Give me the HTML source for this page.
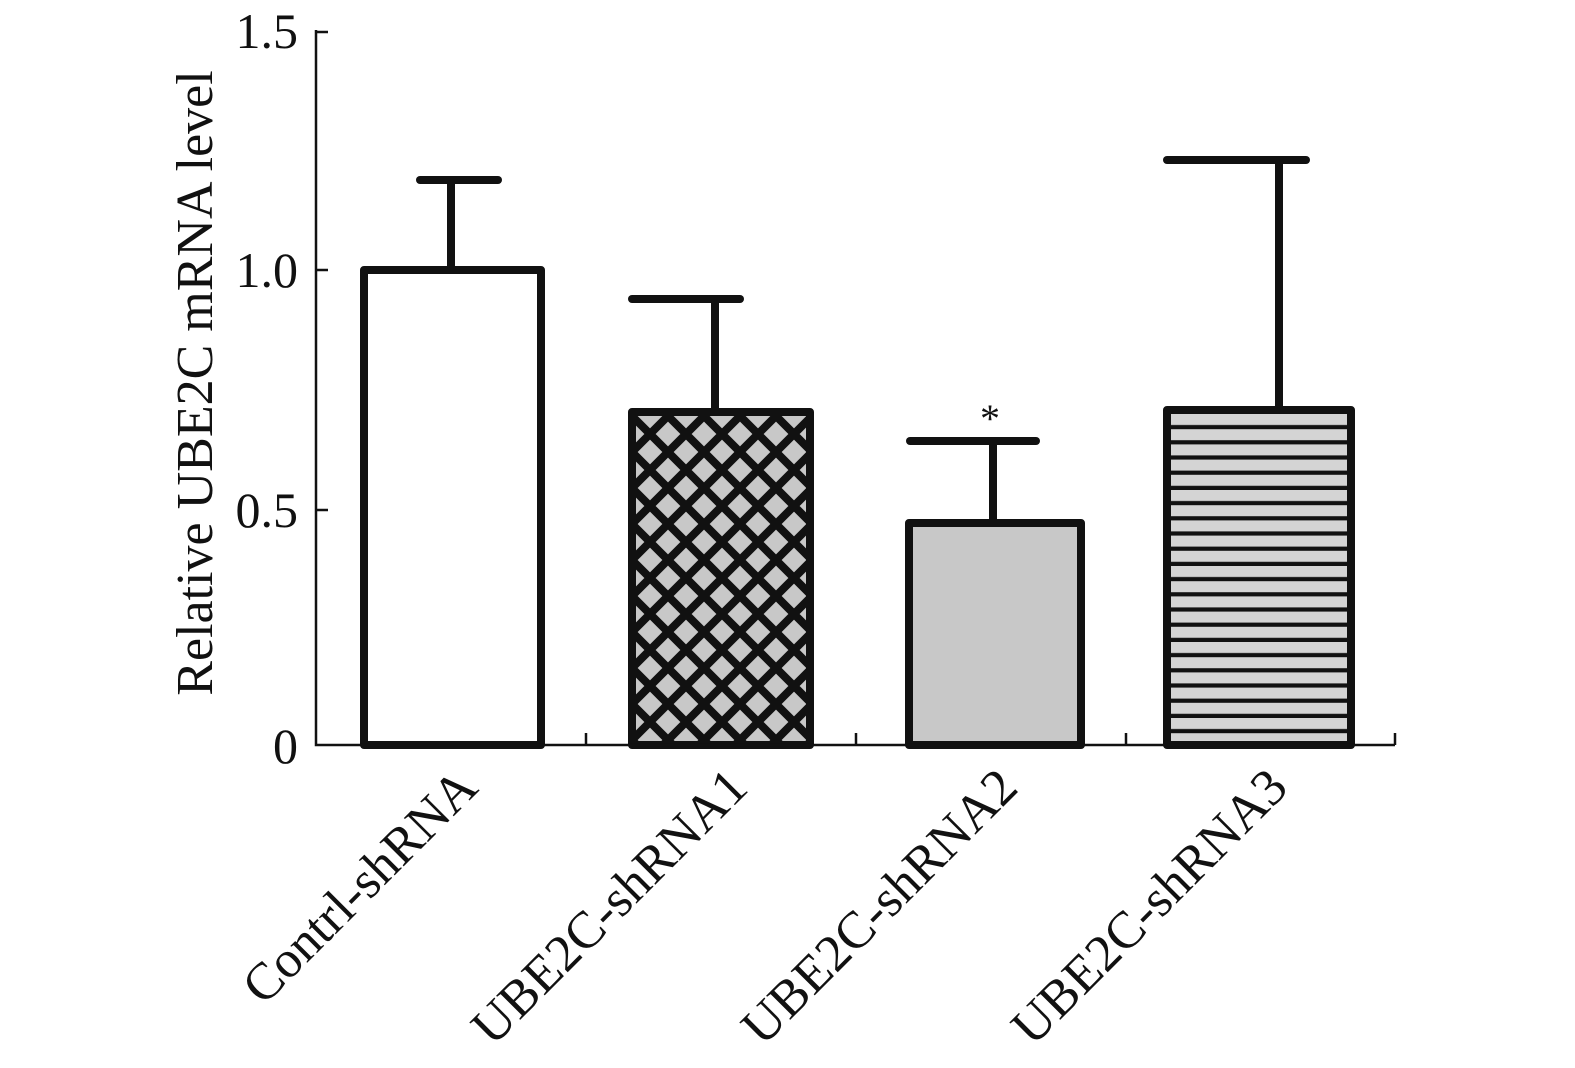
<!DOCTYPE html>
<html><head><style>body{margin:0;background:#fff}svg{display:block}</style></head><body>
<svg width="1575" height="1068" viewBox="0 0 1575 1068" xmlns="http://www.w3.org/2000/svg" font-family="Liberation Serif, serif">
<defs>
<pattern id="xh" width="36" height="36" patternUnits="userSpaceOnUse" x="632" y="416">
<rect width="36" height="36" fill="#c8c8c8"/>
<path d="M-9,9 L9,-9 M0,36 L36,0 M27,45 L45,27 M-9,27 L9,45 M0,0 L36,36 M27,-9 L45,9" stroke="#111" stroke-width="8"/>
</pattern>
<pattern id="hz" width="10" height="15.2" patternUnits="userSpaceOnUse" y="414">
<rect width="10" height="15.2" fill="#d4d4d4"/>
<rect y="11" width="10" height="4.2" fill="#111"/>
</pattern>
</defs>
<g stroke="#111" stroke-width="8" stroke-linecap="round">
<line x1="451" y1="270" x2="451" y2="180"/><line x1="420" y1="180" x2="498" y2="180"/>
<line x1="715" y1="412" x2="715" y2="299"/><line x1="632" y1="299" x2="740" y2="299"/>
<line x1="993" y1="523" x2="993" y2="441"/><line x1="910" y1="441" x2="1036" y2="441"/>
<line x1="1279" y1="410" x2="1279" y2="160"/><line x1="1167" y1="160" x2="1306" y2="160"/>
</g>
<g stroke="#111" stroke-width="8" stroke-linejoin="round">
<rect x="364" y="270" width="177" height="475" fill="#fff"/>
<rect x="632" y="412" width="178" height="333" fill="url(#xh)"/>
<rect x="909" y="523" width="172" height="222" fill="#c8c8c8"/>
<rect x="1167" y="410" width="184" height="335" fill="url(#hz)"/>
</g>
<g stroke="#111" stroke-width="2.5" fill="none">
<path d="M316,30 V745 H1395"/>
<path d="M316,32 H328 M316,270 H328 M316,510 H328 M586,745 V733 M856,745 V733 M1126,745 V733 M1395,745 V733"/>
</g>
<g font-size="50" fill="#111" text-anchor="end">
<text x="298" y="48">1.5</text>
<text x="298" y="287">1.0</text>
<text x="298" y="527">0.5</text>
<text x="298" y="763">0</text>
</g>
<text x="990" y="432" font-size="40" text-anchor="middle" fill="#111">*</text>
<text transform="translate(212,383) rotate(-90)" font-size="52" text-anchor="middle" fill="#111">Relative UBE2C mRNA level</text>
<g font-size="52" fill="#111" text-anchor="end">
<text transform="translate(480,790) rotate(-45)">Contrl-shRNA</text>
<text transform="translate(750,790) rotate(-45)">UBE2C-shRNA1</text>
<text transform="translate(1020,790) rotate(-45)">UBE2C-shRNA2</text>
<text transform="translate(1290,790) rotate(-45)">UBE2C-shRNA3</text>
</g>
</svg>
</body></html>
